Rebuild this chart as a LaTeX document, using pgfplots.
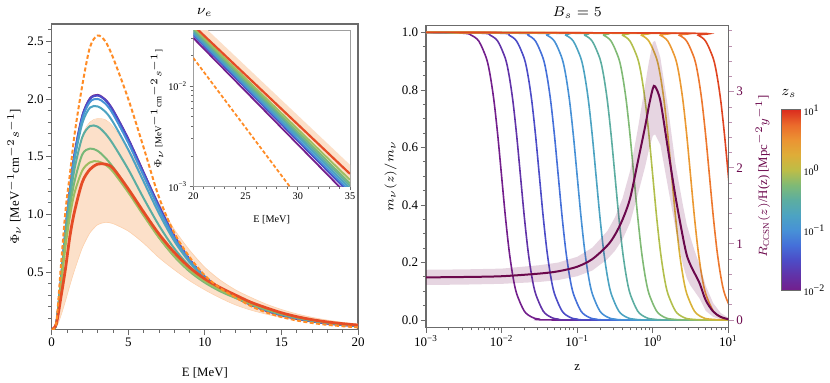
\documentclass[border=0pt]{standalone}
\usepackage{fontspec}
\setmainfont{Liberation Serif}
\usepackage{pgfplots}
\pgfplotsset{compat=1.18}
\usepackage{pgfplotstable}

\newcommand{\tickfont}{\fontsize{6.5}{7}\selectfont}
\newcommand{\labfont}{\fontsize{6.4}{7}\selectfont}
\newcommand{\titfont}{\fontsize{6.6}{7.2}\selectfont}
\newcommand{\insfont}{\fontsize{5.1}{5.8}\selectfont}
\newcommand{\inslab}{\fontsize{5.1}{6}\selectfont}
\newcommand{\insylab}{\fontsize{4.5}{5}\selectfont}
\newcommand{\cbfont}{\fontsize{5.0}{6}\selectfont}

\definecolor{k0}{rgb}{0.45,0.12,0.55}
\definecolor{k1}{rgb}{0.38,0.20,0.66}
\definecolor{k2}{rgb}{0.30,0.30,0.78}
\definecolor{k3}{rgb}{0.27,0.44,0.85}
\definecolor{k4}{rgb}{0.28,0.57,0.84}
\definecolor{k5}{rgb}{0.30,0.64,0.76}
\definecolor{k6}{rgb}{0.36,0.68,0.63}
\definecolor{k7}{rgb}{0.50,0.73,0.46}
\definecolor{k8}{rgb}{0.70,0.75,0.30}
\definecolor{k9}{rgb}{0.85,0.70,0.22}
\definecolor{k10}{rgb}{0.92,0.60,0.20}
\definecolor{k11}{rgb}{0.93,0.47,0.18}
\definecolor{k12}{rgb}{0.88,0.27,0.13}
\definecolor{lgreen}{rgb}{0.47,0.72,0.47}
\definecolor{lygreen}{rgb}{0.62,0.74,0.38}
\definecolor{lred}{rgb}{0.90,0.30,0.15}
\definecolor{rc}{rgb}{0.42,0.03,0.30}
\definecolor{dashc}{rgb}{1.0,0.55,0.15}
\definecolor{bandc}{rgb}{0.99,0.88,0.79}
\definecolor{bandedge}{rgb}{0.99,0.82,0.68}
\definecolor{framec}{gray}{0.42}

\pgfplotsset{
  colormap={zsmap}{rgb=(0.45,0.12,0.55) rgb=(0.38,0.20,0.66) rgb=(0.30,0.30,0.78)
    rgb=(0.27,0.44,0.85) rgb=(0.28,0.57,0.84) rgb=(0.30,0.64,0.76) rgb=(0.36,0.68,0.63)
    rgb=(0.50,0.73,0.46) rgb=(0.74,0.74,0.28) rgb=(0.87,0.68,0.22) rgb=(0.92,0.58,0.20)
    rgb=(0.92,0.42,0.17) rgb=(0.86,0.18,0.12)},
  base/.style={
    scale only axis, anchor=south west,
    tick align=outside,
    major tick length=2.7pt, minor tick length=1.6pt,
    every tick/.append style={framec, line width=0.4pt},
    axis line style={framec, line width=0.6pt},
    tick label style={font=\tickfont, black, inner sep=1.1pt},
    label style={font=\labfont},
    title style={font=\titfont},
    every axis title shift=0pt,
    /pgf/number format/assume math mode=true,
  }
}

% main spectrum: E, curves for several z_s, no-mass case (dash), band edges
\pgfplotstableread{
E c0 c2 c4 c5 c6 c7 c8 c12 dash up lo
0 0 0 0 0 0 0 0 0 0 0 0
0.3 0.05 0.05 0.05 0.05 0.05 0.05 0.05 0.05 0.06 0.05 0.02
0.6 0.42 0.42 0.42 0.42 0.41 0.40 0.37 0.28 0.55 0.38 0.12
0.9 0.86 0.86 0.86 0.85 0.82 0.78 0.72 0.53 1.03 0.74 0.25
1.2 1.23 1.23 1.22 1.20 1.14 1.07 0.99 0.82 1.36 1.08 0.39
1.5 1.53 1.53 1.51 1.48 1.40 1.29 1.19 1.03 1.70 1.35 0.52
2.0 1.855 1.85 1.83 1.79 1.67 1.52 1.38 1.28 2.12 1.68 0.71
2.5 2.005 2.00 1.975 1.925 1.765 1.57 1.45 1.39 2.45 1.80 0.84
3.0 2.035 2.03 2.00 1.935 1.76 1.55 1.46 1.435 2.55 1.83 0.91
3.5 1.995 1.99 1.96 1.89 1.70 1.49 1.43 1.435 2.50 1.82 0.93
4 1.905 1.90 1.87 1.80 1.61 1.41 1.37 1.40 2.36 1.76 0.92
5 1.655 1.65 1.62 1.56 1.39 1.215 1.19 1.22 2.00 1.57 0.855
6 1.365 1.36 1.335 1.285 1.14 1.00 0.99 1.02 1.58 1.34 0.75
7 1.075 1.07 1.05 1.01 0.905 0.80 0.80 0.83 1.15 1.10 0.625
8 0.815 0.81 0.795 0.77 0.705 0.635 0.64 0.67 0.84 0.87 0.52
9 0.61 0.61 0.60 0.585 0.55 0.505 0.515 0.54 0.63 0.69 0.425
10 0.455 0.46 0.455 0.447 0.433 0.408 0.42 0.44 0.47 0.54 0.345
11 0.355 0.36 0.358 0.355 0.347 0.333 0.345 0.365 0.36 0.43 0.275
12 0.28 0.285 0.285 0.285 0.282 0.275 0.285 0.30 0.28 0.345 0.215
13 0.215 0.220 0.221 0.222 0.223 0.222 0.229 0.238 0.205 0.28 0.170
14 0.164 0.168 0.170 0.172 0.174 0.176 0.183 0.190 0.15 0.222 0.135
15 0.124 0.128 0.130 0.132 0.134 0.137 0.142 0.1465 0.11 0.175 0.106
16 0.094 0.097 0.099 0.101 0.103 0.106 0.110 0.113 0.08 0.137 0.083
17 0.071 0.073 0.075 0.077 0.079 0.082 0.085 0.087 0.058 0.107 0.065
18 0.053 0.055 0.057 0.059 0.061 0.063 0.065 0.067 0.042 0.083 0.051
19 0.040 0.042 0.043 0.045 0.046 0.048 0.050 0.052 0.030 0.064 0.040
20 0.030 0.032 0.033 0.034 0.0355 0.037 0.038 0.040 0.020 0.049 0.031
}\mainT

\pgfplotstableread{
E c0 c2 c4 c5 c6 c7 c8 c12 dash
20 0.030 0.032 0.033 0.034 0.0355 0.037 0.038 0.040 0.019
35 0.00078 0.00085 0.00090 0.00096 0.00102 0.00108 0.00117 0.00134 0.00016
}\insT

% m(z)/m for z_s = 10^(-2+0.25k); x = log10 z
\pgfplotstableread{
v x0 x1 x2 x3 x4 x5 x6 x7 x8 x9 x10 x11 x12
1 -3 -3 -3 -3 -3 -3 -3 -3 -3 -3 -3 -3 -3
0.997 -2.5 -2.25 -2.0 -1.75 -1.5 -1.25 -1.0 -0.75 -0.5 -0.25 0.0 0.25 0.5
0.990 -2.4 -2.15 -1.9 -1.65 -1.4 -1.15 -0.9 -0.65 -0.4 -0.15 0.1 0.35 0.6
0.969 -2.3 -2.05 -1.8 -1.55 -1.3 -1.05 -0.8 -0.55 -0.3 -0.05 0.2 0.45 0.7
0.909 -2.2 -1.95 -1.7 -1.45 -1.2 -0.95 -0.7 -0.45 -0.2 0.05 0.3 0.55 0.8
0.849 -2.15 -1.9 -1.65 -1.4 -1.15 -0.9 -0.65 -0.4 -0.15 0.1 0.35 0.6 0.85
0.760 -2.1 -1.85 -1.6 -1.35 -1.1 -0.85 -0.6 -0.35 -0.1 0.15 0.4 0.65 0.9
0.640 -2.05 -1.8 -1.55 -1.3 -1.05 -0.8 -0.55 -0.3 -0.05 0.2 0.45 0.7 0.95
0.500 -2 -1.75 -1.5 -1.25 -1 -0.75 -0.5 -0.25 0 0.25 0.5 0.75 1
0.360 -1.95 -1.7 -1.45 -1.2 -0.95 -0.7 -0.45 -0.2 0.05 0.3 0.55 0.8 1.05
0.240 -1.9 -1.65 -1.4 -1.15 -0.9 -0.65 -0.4 -0.15 0.1 0.35 0.6 0.85 1.1
0.151 -1.85 -1.6 -1.35 -1.1 -0.85 -0.6 -0.35 -0.1 0.15 0.4 0.65 0.9 1.15
0.091 -1.8 -1.55 -1.3 -1.05 -0.8 -0.55 -0.3 -0.05 0.2 0.45 0.7 0.95 1.2
0.031 -1.7 -1.45 -1.2 -0.95 -0.7 -0.45 -0.2 0.05 0.3 0.55 0.8 1.05 1.3
0.010 -1.6 -1.35 -1.1 -0.85 -0.6 -0.35 -0.1 0.15 0.4 0.65 0.9 1.15 1.4
0.003 -1.5 -1.25 -1.0 -0.75 -0.5 -0.25 0 0.25 0.5 0.75 1.0 1.25 1.5
0.000 -1.2 -0.95 -0.7 -0.45 -0.2 0.05 0.3 0.55 0.8 1.05 1.3 1.55 1.8
0.000 2 2 2 2 2 2 2 2 2 2 2 2 2
}\sigT

\pgfplotstableread{
lz r
-3 0.56
-2.5 0.565
-2 0.575
-1.5 0.61
-1.25 0.64
-1 0.70
-0.8 0.80
-0.6 0.98
-0.5 1.12
-0.4 1.32
-0.3 1.60
-0.2 2.07
-0.1 2.55
-0.05 2.82
0 3.04
0.03 3.07
0.1 2.88
0.2 2.25
0.3 1.62
0.4 1.08
0.45 0.85
0.5 0.72
0.55 0.62
0.62 0.48
0.7 0.26
0.8 0.11
0.9 0.04
1.0 0.01
}\RT

\begin{document}
\begin{tikzpicture}
\useasboundingbox (0,0) rectangle (415pt,191.5pt);

% ---------------- left panel ----------------
\begin{axis}[base, at={(25.85pt,26.65pt)}, width=153.15pt, height=152.85pt,
  tick pos=left,
  xmin=0, xmax=20, ymin=0, ymax=2.65,
  xtick={0,5,10,15,20}, minor xtick={0,1,...,20},
  ytick={0.5,1.0,1.5,2.0,2.5}, minor ytick={0.1,0.2,...,2.6},
  yticklabel style={/pgf/number format/fixed, /pgf/number format/fixed zerofill, /pgf/number format/precision=1},
  xlabel={E [MeV]}, ylabel={$\Phi_\nu$ [MeV$^{-1}$cm$^{-2}s^{-1}$]},
  title={$\nu_e$},
  xlabel style={at={(axis description cs:0.5,-0.142)}, anchor=center},
  ylabel style={at={(axis description cs:-0.123,0.5)}, anchor=center},
  title style={at={(axis description cs:0.5,1.036)}, anchor=center},
]
% uncertainty band: upper edge forward, lower edge backward
\addplot[fill=bandc, draw=none] coordinates {
 (0,0)(0.3,0.05)(0.6,0.38)(0.9,0.74)(1.2,1.08)(1.5,1.35)(2,1.68)(2.5,1.80)(3,1.83)(3.5,1.82)(4,1.76)
 (5,1.57)(6,1.34)(7,1.10)(8,0.87)(9,0.69)(10,0.54)(11,0.43)(12,0.345)(13,0.28)(14,0.222)(15,0.175)
 (16,0.137)(17,0.107)(18,0.083)(19,0.064)(20,0.049)
 (20,0.031)(19,0.040)(18,0.051)(17,0.065)(16,0.083)(15,0.106)(14,0.135)(13,0.170)(12,0.215)(11,0.275)
 (10,0.345)(9,0.425)(8,0.52)(7,0.625)(6,0.75)(5,0.855)(4,0.92)(3.5,0.93)(3,0.91)(2.5,0.84)(2,0.71)
 (1.5,0.52)(1.2,0.39)(0.9,0.25)(0.6,0.12)(0.3,0.02)(0,0)};
\addplot[bandedge, line width=0.3pt, smooth] table[x=E,y=up]{\mainT};
\addplot[bandedge, line width=0.3pt, smooth] table[x=E,y=lo]{\mainT};
\addplot[k0, line width=1pt, smooth] table[x=E,y=c0]{\mainT};
\addplot[k2, line width=1pt, smooth] table[x=E,y=c2]{\mainT};
\addplot[k4, line width=1pt, smooth] table[x=E,y=c4]{\mainT};
\addplot[k5, line width=1pt, smooth] table[x=E,y=c5]{\mainT};
\addplot[k6, line width=1pt, smooth] table[x=E,y=c6]{\mainT};
\addplot[lgreen, line width=1pt, smooth] table[x=E,y=c7]{\mainT};
\addplot[lygreen, line width=1pt, smooth] table[x=E,y=c8]{\mainT};
\addplot[lred, line width=1.4pt, smooth] table[x=E,y=c12]{\mainT};
\addplot[dashc, line width=1pt, dash pattern=on 2pt off 1.2pt, smooth] table[x=E,y=dash]{\mainT};
\end{axis}

% ---------------- inset ----------------
\begin{axis}[base, at={(96.65pt,98.15pt)}, width=78.35pt, height=77.85pt,
  tick pos=left,
  axis background/.style={fill=white},
  axis line style={gray!75, line width=0.5pt},
  xmin=20, xmax=35, ymode=log, ymin=0.001, ymax=0.0352,
  xtick={20,25,30,35}, minor xtick={21,...,34},
  ytick={0.001,0.01}, yticklabels={10\textsuperscript{−3},10\textsuperscript{−2}},
  minor ytick={0.002,0.003,0.004,0.005,0.006,0.007,0.008,0.009,0.02,0.03},
  tick label style={font=\insfont},
  major tick length=1.8pt, minor tick length=1.0pt,
  xlabel={E [MeV]}, ylabel={$\Phi_\nu$ [MeV$^{-1}$cm$^{-2}s^{-1}$]},
  xlabel style={font=\inslab, at={(axis description cs:0.5,-0.214)}, anchor=center},
  ylabel style={font=\insylab, at={(axis description cs:-0.232,0.5)}, anchor=center},
]
\addplot[fill=bandc, draw=none] coordinates {(20,0.049)(35,0.00165)(35,0.00100)(20,0.031)};
\addplot[k0, line width=0.9pt] table[x=E,y=c0]{\insT};
\addplot[k2, line width=0.9pt] table[x=E,y=c2]{\insT};
\addplot[k4, line width=0.9pt] table[x=E,y=c4]{\insT};
\addplot[k5, line width=0.9pt] table[x=E,y=c5]{\insT};
\addplot[k6, line width=0.9pt] table[x=E,y=c6]{\insT};
\addplot[lgreen, line width=0.9pt] table[x=E,y=c7]{\insT};
\addplot[lygreen, line width=0.9pt] table[x=E,y=c8]{\insT};
\addplot[lred, line width=1.1pt] table[x=E,y=c12]{\insT};
\addplot[dashc, line width=0.9pt, dash pattern=on 1.8pt off 1.1pt] table[x=E,y=dash]{\insT};
\end{axis}

% ---------------- right panel ----------------
\begin{axis}[base, at={(213pt,27.9pt)}, width=151.2pt, height=151pt,
  tick pos=left,
  xmin=-3, xmax=1, ymin=-0.025, ymax=1.025,
  xtick={-3,-2,-1,0,1},
  xticklabels={10\textsuperscript{−3},10\textsuperscript{−2},10\textsuperscript{−1},10\textsuperscript{0},10\textsuperscript{1}},
  minor xtick={-2.699,-2.523,-2.398,-2.301,-2.222,-2.155,-2.097,-2.046,
    -1.699,-1.523,-1.398,-1.301,-1.222,-1.155,-1.097,-1.046,
    -0.699,-0.523,-0.398,-0.301,-0.222,-0.155,-0.097,-0.046,
    0.301,0.477,0.602,0.699,0.778,0.845,0.903,0.954},
  ytick={0,0.2,0.4,0.6,0.8,1.0},
  minor ytick={0.05,0.1,0.15,0.25,0.3,0.35,0.45,0.5,0.55,0.65,0.7,0.75,0.85,0.9,0.95},
  yticklabel style={/pgf/number format/fixed, /pgf/number format/fixed zerofill, /pgf/number format/precision=1},
  xlabel={z}, ylabel={$m_\nu(z)/m_\nu$},
  title={$B_s = 5$},
  xlabel style={at={(axis description cs:0.5,-0.135)}, anchor=center},
  ylabel style={at={(axis description cs:-0.117,0.5)}, anchor=center},
  title style={at={(axis description cs:0.5,1.04)}, anchor=center},
]
\addplot[k0, line width=0.8pt, smooth] table[x=x0,y=v]{\sigT};
\addplot[k1, line width=0.8pt, smooth] table[x=x1,y=v]{\sigT};
\addplot[k2, line width=0.8pt, smooth] table[x=x2,y=v]{\sigT};
\addplot[k3, line width=0.8pt, smooth] table[x=x3,y=v]{\sigT};
\addplot[k4, line width=0.8pt, smooth] table[x=x4,y=v]{\sigT};
\addplot[k5, line width=0.8pt, smooth] table[x=x5,y=v]{\sigT};
\addplot[k6, line width=0.8pt, smooth] table[x=x6,y=v]{\sigT};
\addplot[k7, line width=0.8pt, smooth] table[x=x7,y=v]{\sigT};
\addplot[k8, line width=0.8pt, smooth] table[x=x8,y=v]{\sigT};
\addplot[k9, line width=0.8pt, smooth] table[x=x9,y=v]{\sigT};
\addplot[k10, line width=0.8pt, smooth] table[x=x10,y=v]{\sigT};
\addplot[k11, line width=0.8pt, smooth] table[x=x11,y=v]{\sigT};
\addplot[k12, line width=0.8pt, smooth] table[x=x12,y=v]{\sigT};
\end{axis}

\begin{axis}[base, at={(213pt,27.9pt)}, width=151.2pt, height=151pt,
  xmin=-3, xmax=1, ymin=-0.0946, ymax=3.874,
  axis x line=none, axis y line*=right,
  ytick={0,1,2,3}, minor ytick={0.2,0.4,0.6,0.8,1.2,1.4,1.6,1.8,2.2,2.4,2.6,2.8,3.2,3.4,3.6,3.8},
  yticklabel style={rc},
  every tick/.append style={rc!45},
  ylabel={$R_{\mathrm{CCSN}}(z)$/H(z) [Mpc$^{-2}y^{-1}$]},
  ylabel style={rc, at={(axis description cs:1.114,0.5)}, anchor=center},
]
\addplot[fill=rc, fill opacity=0.17, draw=none] coordinates {
 (-3,0.66)(-2.5,0.665)(-2,0.675)(-1.5,0.72)(-1.25,0.755)(-1,0.83)(-0.8,0.95)(-0.6,1.17)(-0.5,1.35)
 (-0.4,1.60)(-0.3,1.96)(-0.2,2.50)(-0.1,3.10)(-0.05,3.40)(0,3.65)(0.03,3.67)(0.1,3.45)(0.2,2.80)
 (0.3,2.05)(0.4,1.50)(0.45,1.25)(0.5,1.08)(0.55,0.92)(0.62,0.72)(0.7,0.45)(0.8,0.22)(0.9,0.09)(1.0,0.03)
 (1.0,0.0)(0.9,0.01)(0.8,0.04)(0.7,0.12)(0.62,0.28)(0.55,0.38)(0.5,0.45)(0.45,0.55)(0.4,0.72)(0.3,1.20)
 (0.2,1.75)(0.1,2.30)(0.03,2.44)(0,2.42)(-0.05,2.24)(-0.1,2.02)(-0.2,1.64)(-0.3,1.28)(-0.4,1.06)
 (-0.5,0.91)(-0.6,0.80)(-0.8,0.65)(-1,0.575)(-1.25,0.525)(-1.5,0.50)(-2,0.475)(-2.5,0.465)(-3,0.46)};
\addplot[rc, line width=1pt, smooth] table[x=lz,y=r]{\RT};
\end{axis}

% ---------------- colour bar ----------------
\begin{axis}[base, at={(390.85pt,46.5pt)}, width=9.15pt, height=90pt,
  xmin=0, xmax=1, ymin=-2, ymax=1,
  xtick=\empty, ytick pos=right, yticklabel pos=right, tick align=inside,
  ytick={-2,-1,0,1},
  yticklabels={10\textsuperscript{−2},10\textsuperscript{−1},10\textsuperscript{0},10\textsuperscript{1}},
  minor ytick={-1.699,-1.523,-1.398,-1.301,-1.222,-1.155,-1.097,-1.046,
    -0.699,-0.523,-0.398,-0.301,-0.222,-0.155,-0.097,-0.046,
    0.301,0.477,0.602,0.699,0.778,0.845,0.903,0.954},
  major tick length=2pt, minor tick length=1.1pt,
  tick label style={font=\cbfont, inner sep=1.6pt},
  colormap name=zsmap, point meta min=-2, point meta max=1,
  title={$z_s$}, title style={at={(axis description cs:0.4,1.09)}, anchor=center},
]
\addplot[surf, shader=interp, point meta=y, mesh/rows=2] coordinates {(0,-2) (1,-2) (0,1) (1,1)};
\end{axis}
\end{tikzpicture}
\end{document}
